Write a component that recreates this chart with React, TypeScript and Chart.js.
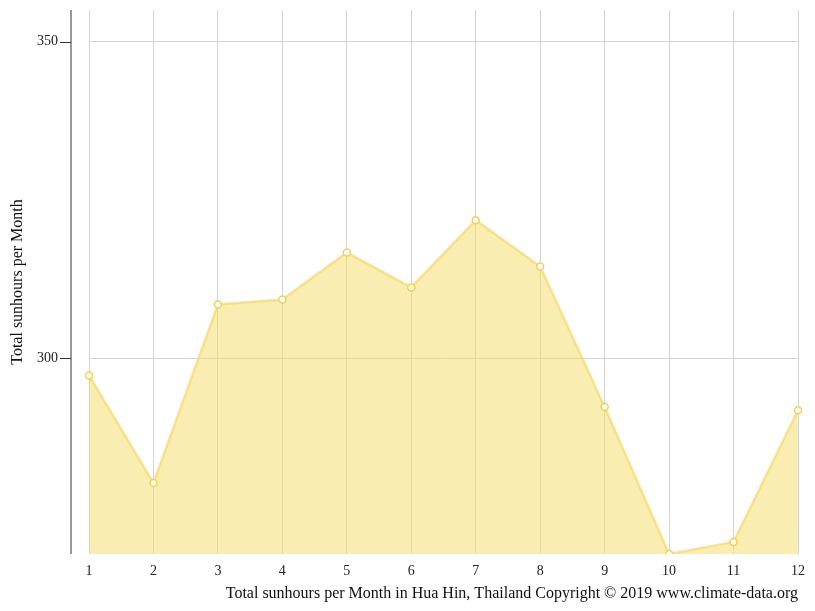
import { useEffect, useRef } from 'react'
import { Chart, registerables } from 'chart.js'

Chart.register(...registerables)

const months = ['1', '2', '3', '4', '5', '6', '7', '8', '9', '10', '11', '12']
const sunHours = [297.3, 280.3, 308.5, 309.3, 316.7, 311.2, 321.8, 314.5, 292.3, 269.1, 271.0, 291.8]
const yTicks = [300, 350]

const FONT = '"Liberation Serif", "DejaVu Serif", serif'

// draws the detached y axis line with its tick marks, 18px left of the plot
const offsetAxis = {
  id: 'offsetAxis',
  afterDraw(chart: any) {
    const { ctx, chartArea, scales } = chart
    const x = chartArea.left - 18
    ctx.save()
    ctx.strokeStyle = '#777'
    ctx.lineWidth = 1.5
    ctx.beginPath()
    ctx.moveTo(x, chartArea.top)
    ctx.lineTo(x, chartArea.bottom)
    ctx.stroke()
    ctx.lineWidth = 1
    ctx.strokeStyle = '#333'
    yTicks.forEach((v) => {
      const y = Math.round(scales.y.getPixelForValue(v)) + 0.5
      ctx.beginPath()
      ctx.moveTo(x - 11, y)
      ctx.lineTo(x, y)
      ctx.stroke()
    })
    ctx.restore()
  },
}

export default function App() {
  const ref = useRef<HTMLCanvasElement>(null)
  const inst = useRef<Chart | null>(null)

  useEffect(() => {
    document.body.style.margin = '0'
    if (!ref.current) return
    inst.current?.destroy()
    inst.current = new Chart(ref.current.getContext('2d')!, {
      type: 'line',
      data: {
        labels: months,
        datasets: [{
          data: sunHours,
          borderColor: 'rgba(246, 216, 100, 0.7)',
          backgroundColor: 'rgba(246, 220, 100, 0.5)',
          borderWidth: 2.5,
          fill: 'start',
          tension: 0,
          pointRadius: 3.5,
          pointBorderWidth: 1.5,
          pointBackgroundColor: '#fff',
          pointBorderColor: '#F5D04E',
        }],
      },
      options: {
        animation: false,
        responsive: false,
        layout: { padding: { left: 0, right: 17, top: 10, bottom: 0 } },
        plugins: { legend: { display: false }, tooltip: { enabled: false } },
        scales: {
          x: {
            offset: false,
            afterFit: (scale: any) => { scale.height = 57 },
            grid: { color: '#d6d6d6', drawTicks: false },
            border: { display: false },
            ticks: { color: '#222', font: { family: FONT, size: 14 }, padding: 9, maxRotation: 0 },
            title: {
              display: true,
              align: 'end',
              text: 'Total sunhours per Month in Hua Hin, Thailand Copyright © 2019 www.climate-data.org',
              color: '#111',
              font: { family: FONT, size: 16 },
              padding: { top: 3.5, bottom: 7.5 },
            },
          },
          y: {
            min: 269.1,
            max: 355,
            afterBuildTicks: (scale: any) => { scale.ticks = yTicks.map((v) => ({ value: v })) },
            afterFit: (scale: any) => {
              scale.width = 89
              scale.paddingTop = 0
              scale.paddingBottom = 0
            },
            grid: { color: '#d6d6d6', drawTicks: false },
            border: { display: false },
            ticks: { color: '#222', font: { family: FONT, size: 14 }, padding: 31 },
            title: {
              display: true,
              text: 'Total sunhours per Month',
              color: '#111',
              font: { family: FONT, size: 16 },
              padding: { top: 8, bottom: 0 },
            },
          },
        },
      },
      plugins: [offsetAxis],
    })
    return () => { inst.current?.destroy() }
  }, [])

  return (
    <div style={{ width: 815, height: 611 }}>
      <canvas ref={ref} width={815} height={611} style={{ width: 815, height: 611 }} />
    </div>
  )
}
